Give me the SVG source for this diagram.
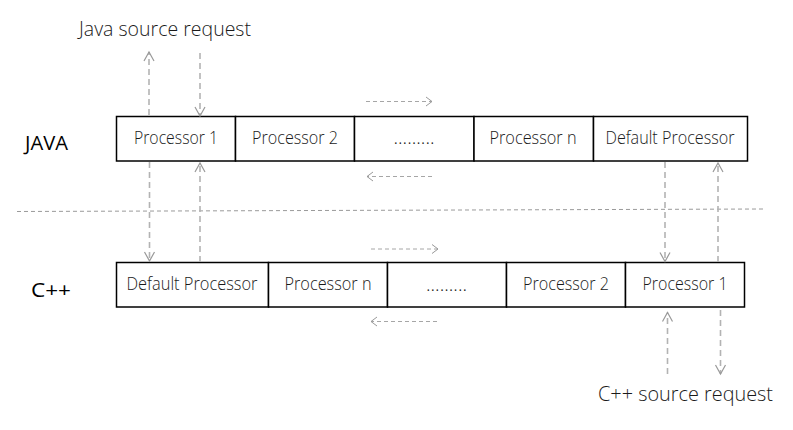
<svg xmlns="http://www.w3.org/2000/svg" width="793" height="430" viewBox="0 0 793 430">
<style>
.bg{fill:#ffffff}
.cell{fill:#ffffff;stroke:#000000;stroke-width:1.5}
.t{font-family:"Open Sans","Segoe UI",sans-serif;font-weight:300;font-size:17.5px;fill:#1a1a1a;text-anchor:middle}
.lbl{font-family:"Open Sans","Segoe UI",sans-serif;font-weight:400;font-size:19.5px;fill:#000000}
.req{font-family:"Open Sans","Segoe UI",sans-serif;font-weight:300;font-size:20px;fill:#1a1a1a}
.v{stroke:#b3b3b3;stroke-width:1.6;stroke-dasharray:6,4;fill:none}
.h{stroke:#a6a6a6;stroke-width:1;stroke-dasharray:4,3;fill:none}
.sep{stroke:#9a9a9a;stroke-width:1;stroke-dasharray:4,3;fill:none}
</style>
<defs>
<marker id="arr" markerUnits="userSpaceOnUse" viewBox="-12 -7 14 14" refX="0" refY="0" markerWidth="14" markerHeight="14" orient="auto">
<path d="M-9,-5 L0,0 L-9,5" fill="none" stroke="#999999" stroke-width="1.2"/>
</marker>
<marker id="arrs" markerUnits="userSpaceOnUse" viewBox="-10 -6 12 12" refX="0" refY="0" markerWidth="12" markerHeight="12" orient="auto">
<path d="M-6,-4.5 L0,0 L-6,4.5" fill="none" stroke="#999999" stroke-width="1"/>
</marker>
</defs>
<rect class="bg" x="0" y="0" width="793" height="430"/>

<g id="labels">
<text class="lbl" x="25" y="150" textLength="43" lengthAdjust="spacingAndGlyphs">JAVA</text>
<text class="lbl" x="31" y="297" textLength="40" lengthAdjust="spacingAndGlyphs">C++</text>
<text class="req" x="79" y="36" textLength="172" lengthAdjust="spacingAndGlyphs">Java source request</text>
<text class="req" x="598" y="401" textLength="175" lengthAdjust="spacingAndGlyphs">C++ source request</text>
</g>

<g id="java-row">
<g id="j-p1"><rect class="cell" x="116.5" y="116.5" width="119" height="44.5"/><text class="t" x="176" y="144" textLength="84" lengthAdjust="spacingAndGlyphs">Processor 1</text></g>
<g id="j-p2"><rect class="cell" x="235.5" y="116.5" width="119" height="44.5"/><text class="t" x="295" y="144" textLength="86" lengthAdjust="spacingAndGlyphs">Processor 2</text></g>
<g id="j-dots"><rect class="cell" x="354.5" y="116.5" width="119.5" height="44.5"/><text class="t" x="414" y="144" textLength="41" lengthAdjust="spacingAndGlyphs">.........</text></g>
<g id="j-pn"><rect class="cell" x="474" y="116.5" width="119.5" height="44.5"/><text class="t" x="533" y="144" textLength="87" lengthAdjust="spacingAndGlyphs">Processor n</text></g>
<g id="j-def"><rect class="cell" x="593.5" y="116.5" width="154" height="44.5"/><text class="t" x="670" y="144" textLength="129" lengthAdjust="spacingAndGlyphs">Default Processor</text></g>
</g>

<g id="cpp-row">
<g id="c-def"><rect class="cell" x="116.5" y="262.5" width="152" height="44.5"/><text class="t" x="192" y="290" textLength="131" lengthAdjust="spacingAndGlyphs">Default Processor</text></g>
<g id="c-pn"><rect class="cell" x="268.5" y="262.5" width="119" height="44.5"/><text class="t" x="328" y="290" textLength="87" lengthAdjust="spacingAndGlyphs">Processor n</text></g>
<g id="c-dots"><rect class="cell" x="387.5" y="262.5" width="119" height="44.5"/><text class="t" x="446.5" y="291" textLength="41" lengthAdjust="spacingAndGlyphs">.........</text></g>
<g id="c-p2"><rect class="cell" x="506.5" y="262.5" width="119" height="44.5"/><text class="t" x="566" y="290" textLength="86" lengthAdjust="spacingAndGlyphs">Processor 2</text></g>
<g id="c-p1"><rect class="cell" x="625.5" y="262.5" width="119" height="44.5"/><text class="t" x="685" y="290" textLength="85" lengthAdjust="spacingAndGlyphs">Processor 1</text></g>
</g>

<g id="connectors">
<line class="sep" x1="17" y1="211.5" x2="763" y2="209"/>
<line class="v" x1="149" y1="115" x2="149" y2="52" marker-end="url(#arr)"/>
<line class="v" x1="200" y1="53" x2="200" y2="116" marker-end="url(#arr)"/>
<line class="v" x1="149.5" y1="162" x2="149.5" y2="261" marker-end="url(#arr)"/>
<line class="v" x1="200" y1="262" x2="200" y2="163" marker-end="url(#arr)"/>
<line class="v" x1="665" y1="162" x2="665" y2="261.5" marker-end="url(#arr)"/>
<line class="v" x1="718" y1="262" x2="718" y2="163" marker-end="url(#arr)"/>
<line class="v" x1="667.5" y1="374" x2="667.5" y2="312.5" marker-end="url(#arr)"/>
<line class="v" x1="720.5" y1="310" x2="720.5" y2="374" marker-end="url(#arr)"/>
<line class="h" x1="366" y1="101.5" x2="432" y2="101.5" marker-end="url(#arrs)"/>
<line class="h" x1="432" y1="176.5" x2="367" y2="176.5" marker-end="url(#arrs)"/>
<line class="h" x1="371" y1="249" x2="438" y2="249" marker-end="url(#arrs)"/>
<line class="h" x1="437" y1="321.5" x2="371" y2="321.5" marker-end="url(#arrs)"/>
</g>
</svg>
